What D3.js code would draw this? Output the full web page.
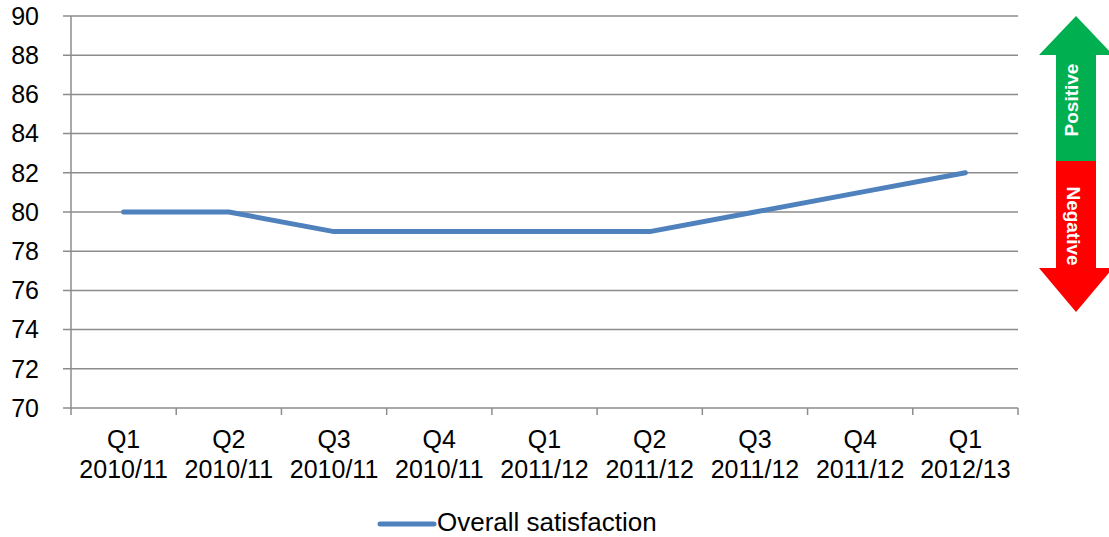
<!DOCTYPE html>
<html>
<head>
<meta charset="utf-8">
<script src="https://cdn.jsdelivr.net/npm/d3@7"></script>
<style>
  body { margin: 0; background: #fff; }
  svg { display: block; font-family: "Liberation Sans", Arial, sans-serif; }
</style>
</head>
<body>
<svg id="chart" width="1109" height="537"></svg>
<script>
// Quarterly survey results
const quarters = ["Q1", "Q2", "Q3", "Q4", "Q1", "Q2", "Q3", "Q4", "Q1"];
const years = ["2010/11", "2010/11", "2010/11", "2010/11", "2011/12", "2011/12", "2011/12", "2011/12", "2012/13"];
const satisfaction = [80, 80, 79, 79, 79, 79, 80, 81, 82];
const yTicks = [70, 72, 74, 76, 78, 80, 82, 84, 86, 88, 90];
const seriesName = "Overall satisfaction";

(function () {
  const svg = d3.select("#chart");
  const plotLeft = 71, plotRight = 1018, plotTop = 16, plotBottom = 408;
  const keys = quarters.map((q, i) => i);

  const x = d3.scaleBand().domain(keys).range([plotLeft, plotRight]);
  const y = d3.scaleLinear().domain([70, 90]).range([plotBottom, plotTop]);

  const grey = "#8c8c8c";

  // Horizontal gridlines with short outer ticks
  svg.append("g").selectAll("line").data(yTicks).join("line")
    .attr("x1", plotLeft - 8).attr("x2", plotRight)
    .attr("y1", d => y(d)).attr("y2", d => y(d))
    .attr("stroke", grey).attr("stroke-width", 1.5);

  // Y axis line
  svg.append("line").attr("x1", plotLeft).attr("x2", plotLeft)
    .attr("y1", plotTop).attr("y2", plotBottom + 1)
    .attr("stroke", grey).attr("stroke-width", 1.5);

  // Y tick labels
  svg.append("g").selectAll("text").data(yTicks).join("text")
    .attr("x", 39).attr("y", d => y(d))
    .attr("dy", "0.35em").attr("text-anchor", "end")
    .attr("font-size", 25).attr("fill", "#000")
    .text(d => d);

  // X category ticks at band boundaries
  const boundaries = keys.map(k => x(k)).concat([plotRight]);
  svg.append("g").selectAll("line").data(boundaries).join("line")
    .attr("x1", d => d).attr("x2", d => d)
    .attr("y1", plotBottom).attr("y2", plotBottom + 7)
    .attr("stroke", grey).attr("stroke-width", 1.5);

  // X labels, two lines
  const xl = svg.append("g").selectAll("text").data(keys).join("text")
    .attr("text-anchor", "middle").attr("font-size", 25).attr("fill", "#000");
  xl.append("tspan").attr("x", d => x(d) + x.bandwidth() / 2).attr("y", 448).text(d => quarters[d]);
  xl.append("tspan").attr("x", d => x(d) + x.bandwidth() / 2).attr("y", 478).text(d => years[d]);

  // Series line
  const line = d3.line()
    .x((d, i) => x(i) + x.bandwidth() / 2)
    .y(d => y(d));
  svg.append("path").datum(satisfaction)
    .attr("d", line).attr("fill", "none")
    .attr("stroke", "#4F81BD").attr("stroke-width", 5)
    .attr("stroke-linejoin", "round").attr("stroke-linecap", "round");

  // Legend
  svg.append("line").attr("x1", 380).attr("x2", 434).attr("y1", 524).attr("y2", 524)
    .attr("stroke", "#4F81BD").attr("stroke-width", 5).attr("stroke-linecap", "round");
  svg.append("text").attr("x", 437).attr("y", 531).attr("font-size", 26).attr("fill", "#000").text(seriesName);

  // Direction arrow: positive (up) and negative (down)
  const ax = 1076, sh = 20, hw = 37;
  const tipTop = 16, headTop = 55, mid = 161, headBot = 268, tipBot = 312;
  svg.append("path")
    .attr("d", `M${ax},${tipTop} L${ax + hw},${headTop} L${ax + sh},${headTop} L${ax + sh},${mid} L${ax - sh},${mid} L${ax - sh},${headTop} L${ax - hw},${headTop} Z`)
    .attr("fill", "#00B050");
  svg.append("path")
    .attr("d", `M${ax - sh},${mid} L${ax + sh},${mid} L${ax + sh},${headBot} L${ax + hw},${headBot} L${ax},${tipBot} L${ax - hw},${headBot} L${ax - sh},${headBot} Z`)
    .attr("fill", "#FF0000");
  svg.append("text").attr("transform", `translate(1071,100) rotate(-90)`)
    .attr("text-anchor", "middle").attr("dy", "0.35em")
    .attr("font-size", 19).attr("font-weight", "bold").attr("fill", "#fff").text("Positive");
  svg.append("text").attr("transform", `translate(1074,226) rotate(90)`)
    .attr("text-anchor", "middle").attr("dy", "0.35em")
    .attr("font-size", 19).attr("font-weight", "bold").attr("fill", "#fff").text("Negative");
})();
</script>
</body>
</html>
